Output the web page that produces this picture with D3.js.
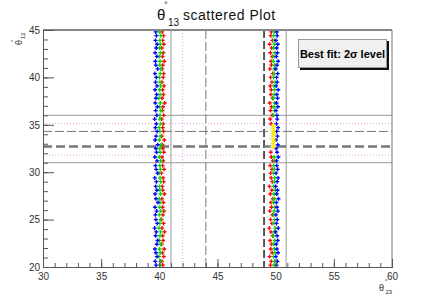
<!DOCTYPE html>
<html>
<head>
<meta charset="utf-8">
<script src="https://cdn.jsdelivr.net/npm/d3@7"></script>
<style>
  body { margin: 0; background: #fff; }
  svg { display: block; font-family: "Liberation Sans", Arial, sans-serif; }
</style>
</head>
<body>
<div id="chart"></div>
<script>
// theta12 values of the scan, shared by the series of one band
var thetaY = [20.2,20.6,21.1,21.5,21.9,22.4,22.8,23.3,23.7,24.1,
              24.6,25.0,25.5,25.9,26.3,26.8,27.2,27.7,28.1,28.5,
              29.0,29.4,29.9,30.3,30.7,31.2,31.6,32.1,32.5,32.9,
              33.4,33.8,34.3,34.7,35.1,35.6,36.0,36.5,36.9,37.3,
              37.8,38.2,38.7,39.1,39.5,40.0,40.4,40.9,41.3,41.7,
              42.2,42.6,43.1,43.5,43.9,44.4,44.8];

// band near theta23 = 40
var leftBlue = [39.72,39.65,39.80,39.70,39.62,39.78,39.85,39.68,39.74,39.60,
                39.82,39.70,39.66,39.77,39.63,39.88,39.71,39.64,39.79,39.69,
                39.75,39.61,39.84,39.73,39.67,39.80,39.62,39.76,39.70,39.86,
                39.64,39.72,39.81,39.66,39.74,39.60,39.78,39.69,39.83,39.65,
                39.71,39.77,39.63,39.80,39.68,39.74,39.62,39.85,39.70,39.66,
                39.79,39.64,39.73,39.81,39.67,39.75,39.69];
var leftGreen = [40.05,40.10,39.98,40.08,40.02,40.12,40.00,40.06,40.11,39.97,
                 40.04,40.09,40.01,40.13,40.03,40.07,39.99,40.10,40.05,40.02,
                 40.12,40.06,39.98,40.09,40.04,40.11,40.00,40.07,40.03,40.13,
                 40.01,40.08,40.05,39.99,40.10,40.04,40.06,40.12,40.02,40.09,
                 39.97,40.07,40.03,40.11,40.05,40.00,40.08,40.13,40.04,40.06,
                 40.01,40.10,40.03,40.09,40.05,40.12,40.02];
var leftRed = [40.30,40.22,40.38,40.26,40.42,40.20,40.33,40.28,40.45,40.24,
               40.36,40.19,40.31,40.40,40.27,40.35,40.21,40.44,40.29,40.25,
               40.37,40.32,40.18,40.41,40.28,40.34,40.23,40.39,40.30,40.26,
               40.43,40.22,40.36,40.29,40.33,40.20,40.38,40.27,40.31,40.46,
               40.24,40.35,40.28,40.40,40.22,40.33,40.37,40.25,40.30,40.42,
               40.27,40.34,40.21,40.39,40.29,40.36,40.24];

// band near theta23 = 50 (null = no point)
var rightRed = [49.55,49.62,49.48,49.70,49.58,49.66,49.52,49.74,49.60,49.45,
                49.68,49.56,49.72,49.50,49.64,49.59,49.76,49.54,49.67,49.47,
                49.71,49.61,49.57,49.69,49.53,49.75,49.63,49.58,null,null,
                null,null,null,null,49.60,49.52,49.70,49.56,49.65,49.49,
                49.73,49.59,49.62,49.54,49.68,49.57,49.75,49.51,49.64,49.60,
                49.70,49.55,49.66,49.48,49.72,49.58,49.63];
var rightGreen = [49.86,49.90,49.82,49.94,49.88,49.84,49.92,49.80,49.89,49.95,
                  49.85,49.91,49.83,49.87,49.93,49.81,49.90,49.86,49.96,49.84,
                  49.88,49.92,49.82,49.89,49.85,49.94,49.87,null,null,null,
                  null,null,null,null,null,null,49.84,49.90,49.86,49.93,
                  49.81,49.88,49.91,49.85,49.95,49.83,49.89,49.87,49.92,49.80,
                  49.86,49.94,49.84,49.90,49.88,49.82,49.91];
var rightBlue = [50.08,50.15,50.02,50.20,50.10,50.05,50.18,50.12,50.00,50.22,
                 50.07,50.14,50.03,50.19,50.11,50.06,50.24,50.09,50.16,50.01,
                 50.13,50.21,50.04,50.17,50.10,50.08,50.23,50.12,50.05,50.18,
                 50.02,50.15,50.09,50.20,50.06,50.13,50.11,50.03,50.19,50.07,
                 50.16,50.10,50.22,50.04,50.14,50.08,50.17,50.01,50.12,50.21,
                 50.06,50.15,50.09,50.18,50.03,50.13,50.10];
var yellowX = [49.80,49.84,49.78,49.86,49.82,49.79,49.85,49.81,49.83,49.77,49.84,49.80];
var yellowY = [32.6,32.8,33.1,33.3,33.5,33.8,34.0,34.2,34.4,34.6,34.8,35.0];
var grayX = [49.62,49.70,49.66,49.74,49.60,49.68,49.72,49.64,49.70,49.66,49.73,49.61];
var grayY = [32.3,32.7,33.0,33.3,33.6,33.9,34.1,34.4,34.7,35.0,35.3,35.6];

// reference lines
var vLines = [41.0, 42.0, 44.0, 49.0, 50.9];
var vStyles = ["solid", "pink", "dash", "black", "solid"];
var hLines = [36.0, 35.15, 34.3, 32.7, 31.8, 31.0];
var hStyles = ["solid", "pink", "dash", "thick", "pink", "solid"];

var xTicks = [30, 35, 40, 45, 50, 55, 60];
var yTicks = [20, 25, 30, 35, 40, 45];

document.addEventListener('DOMContentLoaded', function() {
    var W = 436, H = 297;
    var margin = {top: 30, right: 44, bottom: 30, left: 43},
        width = W - margin.left - margin.right,
        height = H - margin.top - margin.bottom;

    var svg = d3.select("#chart").append("svg")
        .attr("width", W)
        .attr("height", H);

    var x = d3.scaleLinear().domain([30, 60]).range([margin.left, margin.left + width]);
    var y = d3.scaleLinear().domain([20, 45]).range([margin.top + height, margin.top]);

    var styleMap = {
        solid: {stroke: "#9a9a9a", width: 1, dash: null},
        pink:  {stroke: "#e9a3e9", width: 1, dash: "1,2"},
        dash:  {stroke: "#777", width: 1, dash: "9,3"},
        thick: {stroke: "#777", width: 2.5, dash: "9,4"},
        black: {stroke: "#000", width: 1.3, dash: "8,3"}
    };

    // guide lines
    var lines = svg.append("g");
    vLines.forEach(function(v, i) {
        var s = styleMap[vStyles[i]];
        lines.append("line")
            .attr("x1", x(v)).attr("x2", x(v))
            .attr("y1", y(45)).attr("y2", y(20))
            .attr("stroke", s.stroke).attr("stroke-width", s.width)
            .attr("stroke-dasharray", s.dash);
    });
    hLines.forEach(function(v, i) {
        var s = styleMap[hStyles[i]];
        lines.append("line")
            .attr("x1", x(30)).attr("x2", x(60))
            .attr("y1", y(v)).attr("y2", y(v))
            .attr("stroke", s.stroke).attr("stroke-width", s.width)
            .attr("stroke-dasharray", s.dash);
    });

    // scatter points
    var pts = svg.append("g");
    var marker = d3.symbol().type(d3.symbolCross).size(9);
    function drawSeries(xs, ys, col) {
        var data = xs.map(function(v, i) { return [v, ys[i]]; })
            .filter(function(d) { return d[0] !== null; });
        pts.selectAll(null)
            .data(data)
            .enter().append("path")
                .attr("d", marker)
                .attr("transform", function(d) { return "translate(" + x(d[0]) + "," + y(d[1]) + ")"; })
                .attr("fill", col);
    }
    drawSeries(grayX, grayY, "#e4e4e4");
    drawSeries(leftRed, thetaY, "#ff0000");
    drawSeries(leftGreen, thetaY, "#00dd00");
    drawSeries(leftBlue, thetaY, "#0000ff");
    drawSeries(rightRed, thetaY, "#ff0000");
    drawSeries(rightGreen, thetaY, "#00dd00");
    drawSeries(rightBlue, thetaY, "#0000ff");
    drawSeries(yellowX, yellowY, "#ffee00");

    // frame
    svg.append("line")
        .attr("x1", x(30)).attr("x2", x(60)).attr("y1", y(45)).attr("y2", y(45))
        .attr("stroke", "#888").attr("stroke-width", 2);
    svg.append("line")
        .attr("x1", x(60)).attr("x2", x(60)).attr("y1", y(45)).attr("y2", y(20))
        .attr("stroke", "#777").attr("stroke-width", 1);

    // axes (ticks drawn inward, ROOT style)
    svg.append("g")
        .attr("transform", "translate(0," + y(20) + ")")
        .call(d3.axisBottom(x).tickValues(d3.range(30, 61, 1)).tickSize(-4).tickFormat(""));
    var xAxis = svg.append("g")
        .attr("transform", "translate(0," + y(20) + ")")
        .call(d3.axisBottom(x).tickValues(xTicks).tickSize(-8).tickPadding(4));
    svg.append("g")
        .attr("transform", "translate(" + x(30) + ",0)")
        .call(d3.axisLeft(y).tickValues(d3.range(20, 46, 1)).tickSize(-5).tickFormat(""));
    var yAxis = svg.append("g")
        .attr("transform", "translate(" + x(30) + ",0)")
        .call(d3.axisLeft(y).tickValues(yTicks).tickSize(-11).tickPadding(3));

    svg.selectAll(".domain").attr("stroke", "#555");
    svg.selectAll(".tick line").attr("stroke", "#555");
    xAxis.selectAll(".tick text")
        .attr("font-size", 10).attr("fill", "#333")
        .attr("y", 4).attr("dy", "0.9em")
        .attr("font-family", "Liberation Sans, Arial, sans-serif");
    yAxis.selectAll(".tick text")
        .attr("font-size", 10).attr("fill", "#333")
        .attr("x", -3)
        .attr("font-family", "Liberation Sans, Arial, sans-serif");

    // title
    var title = svg.append("g").attr("fill", "#111");
    title.append("text").attr("x", 157).attr("y", 20).attr("font-size", 15).text("θ");
    title.append("text").attr("x", 164).attr("y", 8).attr("font-size", 9).text("°");
    title.append("text").attr("x", 168).attr("y", 26).attr("font-size", 10).text("13");
    title.append("text").attr("x", 183).attr("y", 20).attr("font-size", 14)
        .attr("letter-spacing", 0.5).text("scattered Plot");

    // x axis title
    var xt = svg.append("g").attr("fill", "#222");
    xt.append("text").attr("x", 379).attr("y", 291).attr("font-size", 9).text("θ");
    xt.append("text").attr("x", 385).attr("y", 283).attr("font-size", 6).text("°");
    xt.append("text").attr("x", 385.5).attr("y", 294).attr("font-size", 6).text("23");

    // y axis title (rotated)
    var yt = svg.append("g").attr("fill", "#222")
        .attr("transform", "translate(22,45) rotate(-90)");
    yt.append("text").attr("x", 0).attr("y", 0).attr("font-size", 9).text("θ");
    yt.append("text").attr("x", 3).attr("y", -7).attr("font-size", 6).text("°");
    yt.append("text").attr("x", 6).attr("y", 3).attr("font-size", 6).text("12");

    // legend box
    svg.append("rect").attr("x", 300).attr("y", 41).attr("width", 89).attr("height", 29)
        .attr("fill", "#111");
    svg.append("rect").attr("x", 298.5).attr("y", 39.5).attr("width", 88).attr("height", 28)
        .attr("fill", "#f0f0f0").attr("stroke", "#999");
    svg.append("text")
        .attr("x", 342.5).attr("y", 57.5)
        .attr("text-anchor", "middle")
        .attr("font-size", 11).attr("font-weight", "bold").attr("fill", "#000")
        .text("Best fit: 2σ level");
});
</script>
</body>
</html>
